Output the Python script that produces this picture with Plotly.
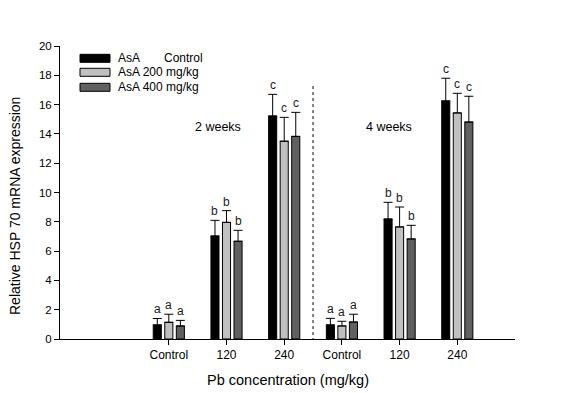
import plotly.graph_objects as go

# ---- data ----
tick_pos = [1, 2, 3, 4, 5, 6]
tick_labels = ["Control", "120", "240", "Control", "120", "240"]
series_names = ["AsA      Control", "AsA 200 mg/kg", "AsA 400 mg/kg"]

mean_control = [0.96, 7.03, 15.22, 0.96, 8.19, 16.25]
mean_200 = [1.14, 7.96, 13.50, 0.89, 7.65, 15.43]
mean_400 = [0.89, 6.67, 13.83, 1.16, 6.83, 14.81]

err_control = [0.44, 1.07, 1.48, 0.45, 1.14, 1.55]
err_200 = [0.55, 0.80, 1.63, 0.32, 1.36, 1.34]
err_400 = [0.38, 0.75, 1.64, 0.53, 0.93, 1.76]

letters_control = ["a", "b", "c", "a", "b", "c"]
letters_200 = ["a", "b", "c", "a", "b", "c"]
letters_400 = ["a", "b", "c", "a", "b", "c"]

colors = ["#000000", "#c0c0c0", "#606060"]
offsets = [-0.2, 0.0, 0.2]

means = [mean_control, mean_200, mean_400]
errs = [err_control, err_200, err_400]
letters = [letters_control, letters_200, letters_400]

FONT = "Liberation Sans, Arial, sans-serif"

# page offset caused by default body margin
OFF = 8
W, H = 561 - OFF, 393 - OFF
L, R, T, B = 60 - OFF, 46, 46 - OFF, 54
pw, ph = W - L - R, H - T - B


def px(x):
    return (x - OFF - L) / pw


def py(y):
    return (H - B - (y - OFF)) / ph


fig = go.Figure()
for name, m, e, c in zip(series_names, means, errs, colors):
    fig.add_trace(go.Bar(
        x=tick_pos, y=m, name=name,
        marker=dict(color=c, line=dict(color="black", width=1)),
        error_y=dict(type="data", array=e, arrayminus=[0] * len(e), symmetric=False,
                     color="black", thickness=1, width=4.5),
        showlegend=False,
    ))

annotations = []
for m, e, lt, off in zip(means, errs, letters, offsets):
    for xp, mv, ev, l in zip(tick_pos, m, e, lt):
        annotations.append(dict(x=xp + off, y=mv + ev, text=l, showarrow=False,
                                xanchor="center", yanchor="bottom",
                                font=dict(family=FONT, size=12, color="#1a1a1a")))

annotations += [
    dict(x=1.85, y=14.5, text="2 weeks", showarrow=False, xanchor="center", yanchor="middle",
         font=dict(family=FONT, size=12.5, color="black")),
    dict(x=4.82, y=14.5, text="4 weeks", showarrow=False, xanchor="center", yanchor="middle",
         font=dict(family=FONT, size=12.5, color="black")),
]

annotations.append(dict(x=px(288), y=py(380), xref="paper", yref="paper",
                        text="Pb concentration (mg/kg)", showarrow=False,
                        xanchor="center", yanchor="middle",
                        font=dict(family=FONT, size=14.5, color="black")))
annotations.append(dict(x=px(15), y=py(206), xref="paper", yref="paper",
                        text="Relative HSP 70 mRNA expression", showarrow=False,
                        textangle=-90, xanchor="center", yanchor="middle",
                        font=dict(family=FONT, size=14, color="black")))

shapes = []
leg_y = [58.3, 72.3, 87.3]
leg_text = [("AsA", "Control"), ("AsA 200 mg/kg", None), ("AsA 400 mg/kg", None)]
for yc, c, (t1, t2) in zip(leg_y, colors, leg_text):
    shapes.append(dict(type="rect", xref="paper", yref="paper",
                       x0=px(80), x1=px(110), y0=py(yc - 4), y1=py(yc + 4),
                       fillcolor=c, line=dict(color="black", width=1)))
    annotations.append(dict(x=px(116), y=py(yc), xref="paper", yref="paper", text=t1,
                            showarrow=False, xanchor="left", yanchor="middle",
                            font=dict(family=FONT, size=12, color="black")))
    if t2:
        annotations.append(dict(x=px(162), y=py(yc), xref="paper", yref="paper", text=t2,
                                showarrow=False, xanchor="left", yanchor="middle",
                                font=dict(family=FONT, size=12, color="black")))

# dotted separator between the two periods
shapes.append(dict(type="line", xref="x", yref="y", x0=3.5, x1=3.5, y0=-0.55, y1=17.47,
                   line=dict(color="black", width=1, dash="dot")))

fig.update_layout(
    width=W, height=H,
    margin=dict(l=L, r=R, t=T, b=B, pad=0),
    paper_bgcolor="white", plot_bgcolor="white",
    barmode="group", bargap=0.4, bargroupgap=0.3,
    annotations=annotations, shapes=shapes,
    font=dict(family=FONT, color="black"),
)
fig.update_xaxes(range=[-0.886, 7.0], tickvals=tick_pos, ticktext=tick_labels,
                 showline=True, linecolor="black", linewidth=1,
                 ticks="outside", ticklen=5, tickcolor="black", tickwidth=1,
                 showgrid=False, zeroline=False,
                 tickfont=dict(family=FONT, size=12, color="black"))
fig.update_yaxes(range=[0, 20], dtick=2, tick0=0,
                 showline=True, linecolor="black", linewidth=1,
                 ticks="outside", ticklen=5, tickcolor="black", tickwidth=1,
                 showgrid=False, zeroline=False,
                 tickfont=dict(family=FONT, size=11.5, color="black"))

fig.write_html("out.html")
